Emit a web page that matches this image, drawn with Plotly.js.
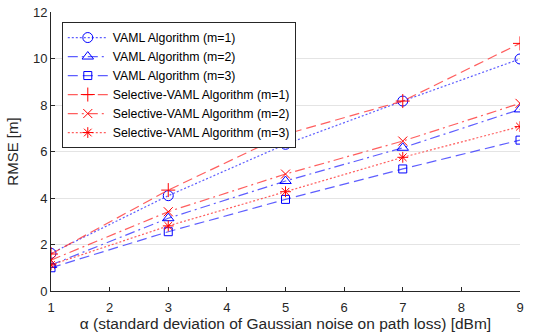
<!DOCTYPE html>
<html><head><meta charset="utf-8">
<script src="https://cdn.plot.ly/plotly-3.0.1.min.js"></script>
<style>html,body{margin:0;padding:0;background:#fff}#c{width:545px;height:332px}</style>
</head><body><div id="c"></div>
<script>
const alpha = [1, 3, 5, 7, 9];
const vaml_m1 = [1.62, 4.10, 6.31, 8.17, 9.98];
const vaml_m2 = [1.12, 3.13, 4.73, 6.16, 7.81];
const vaml_m3 = [1.00, 2.55, 3.94, 5.25, 6.49];
const sel_m1 = [1.59, 4.34, 6.74, 8.17, 10.65];
const sel_m2 = [1.33, 3.41, 5.03, 6.45, 8.07];
const sel_m3 = [1.12, 2.80, 4.27, 5.75, 7.07];
const names = ["VAML Algorithm (m=1)","VAML Algorithm (m=2)","VAML Algorithm (m=3)",
  "Selective-VAML Algorithm (m=1)","Selective-VAML Algorithm (m=2)","Selective-VAML Algorithm (m=3)"];
const xTicks = [1,2,3,4,5,6,7,8,9];
const yTicks = [0,2,4,6,8,10,12];

const blue = "#0000ff", red = "#ff0000";
const blueLine = "rgba(40,40,255,0.75)", redLine = "rgba(255,40,40,0.75)";
function tr(y, name, color, lcolor, dash, symbol, size){
  return {x: alpha, y: y, name: name, mode: "lines+markers", type: "scatter",
    line: {color: lcolor, width: 1.2, dash: dash},
    marker: {symbol: symbol, size: size, color: color, line: {color: color, width: 1}}};
}
const DOT = "2px,2px", DASH = "10px,5px", DASHDOT = "10px,4px,2px,4px";
const data = [
  tr(vaml_m1, names[0], blue, blueLine, DOT, "circle-open", 10),
  tr(vaml_m2, names[1], blue, blueLine, DASHDOT, "triangle-up-open", 10),
  tr(vaml_m3, names[2], blue, blueLine, DASH, "square-open", 8),
  tr(sel_m1, names[3], red, redLine, DASH, "cross-thin-open", 10),
  tr(sel_m2, names[4], red, redLine, DASHDOT, "x-thin-open", 9),
  tr(sel_m3, names[5], red, redLine, DOT, "asterisk-open", 9),
];
const layout = {
  width: 545, height: 332,
  margin: {l: 51, r: 25, t: 12, b: 41},
  paper_bgcolor: "#fff", plot_bgcolor: "#fff",
  font: {family: "Liberation Sans, Arial, sans-serif", size: 13, color: "#262626"},
  showlegend: true,
  legend: {x: 0.023, y: 0.964, xanchor: "left", yanchor: "top",
    bgcolor: "#fff", bordercolor: "#262626", borderwidth: 1,
    font: {size: 12.3, color: "#000"}, tracegroupgap: 0, itemwidth: 40},
  xaxis: {range: [1, 9], tickvals: xTicks, ticktext: xTicks.map(String),
    showgrid: false, zeroline: false, showline: true, linecolor: "#262626", linewidth: 1,
    ticks: "inside", ticklen: 4, tickcolor: "#262626", ticklabelstandoff: 4,
    title: {text: "α (standard deviation of Gaussian noise on path loss) [dBm]", font: {size: 15.5}, standoff: 4}},
  yaxis: {range: [0, 12], tickvals: yTicks, ticktext: yTicks.map(String),
    showgrid: true, gridcolor: "#e4e4e4", zeroline: false, showline: true, linecolor: "#262626", linewidth: 1,
    ticks: "inside", ticklen: 4, tickcolor: "#262626",
    title: {text: "RMSE [m]", font: {size: 15}, standoff: 10}}
};
Plotly.newPlot("c", data, layout, {displayModeBar: false, staticPlot: true});
</script></body></html>
